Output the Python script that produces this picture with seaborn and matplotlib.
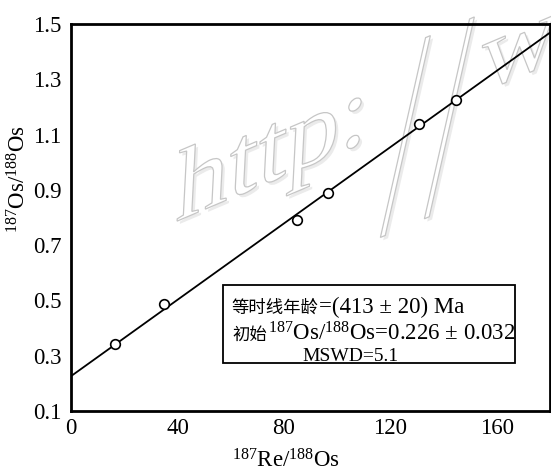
import numpy as np
import pandas as pd
import matplotlib
matplotlib.use("Agg")
import matplotlib.pyplot as plt
import matplotlib.patheffects as pe
from matplotlib.patches import Rectangle, PathPatch
from matplotlib.textpath import TextPath
from matplotlib.font_manager import FontProperties
from matplotlib.transforms import Affine2D
from matplotlib.ticker import MultipleLocator
import seaborn as sns

# Re-Os isotope data
re_os = [16.5, 35.1, 84.8, 96.4, 130.9, 144.6]     # 187Re/188Os
os_os = [0.341, 0.488, 0.791, 0.888, 1.137, 1.225]  # 187Os/188Os

# Isochron result
age_ma = 413
age_err = 20
initial_ratio = 0.226
initial_err = 0.032
mswd = 5.1
decay_const = 1.666e-11  # 187Re decay constant, 1/yr

x_ticks = [0, 40, 80, 120, 160]
y_ticks = [0.1, 0.3, 0.5, 0.7, 0.9, 1.1, 1.3, 1.5]

sns.set_theme(style="white")
plt.rcParams["font.family"] = ["Liberation Serif", "Noto Sans CJK SC"]
plt.rcParams["mathtext.fontset"] = "custom"
plt.rcParams["mathtext.rm"] = "Liberation Serif"
plt.rcParams["mathtext.it"] = "Liberation Serif:italic"

W, H = 551, 472
fig = plt.figure(figsize=(W / 100, H / 100), dpi=100)
ax = fig.add_axes([71 / W, 1 - 411 / H, 479 / W, 387 / H])

ax.set_xlim(0, 180)
ax.set_ylim(0.1, 1.5)

# watermark behind the data: sheared outline text, drawn piece by piece
wm_font = FontProperties(family="Liberation Serif")


def watermark_piece(text, dx, sx=1.05, sy=1.0, dy=0.0, slant=3):
    path = TextPath((0, 0), text, size=100, prop=wm_font)
    tr = (Affine2D().scale(sx, sy).translate(0, dy).skew_deg(slant, 0)
          .translate(dx, 0).skew_deg(0, 23).translate(175, H - 222))
    patch = PathPatch(path, transform=tr, facecolor="white",
                      edgecolor="#c6c6c6", lw=0.9, zorder=0.5, clip_on=False,
                      path_effects=[pe.SimplePatchShadow(offset=(2.0, -2.0),
                                                         shadow_rgbFace="#ebebeb",
                                                         alpha=1.0),
                                    pe.Normal()])
    ax.add_artist(patch)


watermark_piece("http:", 0)
watermark_piece("/", 218, sx=1.0, sy=2.7, dy=-100, slant=7)
watermark_piece("/", 262, sx=1.0, sy=2.7, dy=-100, slant=7)
watermark_piece("www", 305)

# isochron line from the fitted age and initial ratio
slope = np.exp(decay_const * age_ma * 1e6) - 1
line_x = np.array([0.0, 180.0])
line_df = pd.DataFrame({"x": line_x, "y": initial_ratio + slope * line_x})
sns.lineplot(data=line_df, x="x", y="y", ax=ax, color="black", lw=1.3, zorder=2)

pts = pd.DataFrame({"re": re_os, "os": os_os})
sns.scatterplot(data=pts, x="re", y="os", ax=ax, s=48, marker="o",
                facecolor="white", edgecolor="black", linewidth=1.2, zorder=3)

ax.set_xlim(0, 180)
ax.set_ylim(0.1, 1.5)
ax.set_xticks(x_ticks)
ax.set_xticklabels([str(v) for v in x_ticks])
ax.set_yticks(y_ticks)
ax.set_yticklabels([f"{v:.1f}" for v in y_ticks])
ax.xaxis.set_minor_locator(MultipleLocator(20))
ax.yaxis.set_minor_locator(MultipleLocator(0.1))

for s in ax.spines.values():
    s.set_linewidth(2.0)
    s.set_color("black")
ax.tick_params(axis="both", which="major", direction="in", length=6, width=1.5,
               labelsize=16.5, colors="black", top=False, right=False)
ax.tick_params(axis="both", which="minor", direction="in", length=3.5, width=1.5,
               top=False, right=False)
ax.tick_params(axis="y", which="major", pad=7)
ax.tick_params(axis="x", which="major", pad=5)

ax.set_xlabel(r"$^{187}$Re/$^{188}$Os", fontsize=16.5, color="black")
ax.set_ylabel(r"$^{187}$Os/$^{188}$Os", fontsize=16.5, color="black")
ax.xaxis.set_label_coords(0.448, -0.099)
ax.yaxis.set_label_coords(-0.084, (411 - 179) / 387)

# result box
ax.add_patch(Rectangle((0.318, 0.123), 0.609, 0.203, transform=ax.transAxes,
                       fill=True, facecolor="white", edgecolor="black",
                       lw=1.3, zorder=4))


def put_after(prev, text, **kw):
    """Place text directly to the right of an existing text, same baseline."""
    fig.canvas.draw()
    bb = prev.get_window_extent()
    x_ax = ax.transAxes.inverted().transform((bb.x1, 0))[0]
    _, y_ax = prev.get_position()
    return ax.text(x_ax, y_ax, text, transform=ax.transAxes, va="baseline",
                   ha="left", zorder=5, color="black", **kw)


cjk = dict(family="Noto Sans CJK SC", fontsize=12.5)
latin = dict(family="Liberation Serif", fontsize=16.5)

r1 = ax.text(0.3355, 0.253, "等时线年龄", transform=ax.transAxes, va="baseline",
             ha="left", zorder=5, color="black", **cjk)
put_after(r1, f"=({age_ma} ± {age_err}) Ma", **latin)

r2 = ax.text(0.338, 0.183, "初始", transform=ax.transAxes, va="baseline",
             ha="left", zorder=5, color="black", **cjk)
put_after(r2, r"$^{187}$Os/$^{188}$Os" + f"={initial_ratio:.3f} ± {initial_err:.3f}",
          **latin)

ax.text(0.484, 0.129, f"MSWD={mswd}", transform=ax.transAxes, va="baseline",
        ha="left", zorder=5, color="black", family="Liberation Serif", fontsize=14)

fig.savefig("out.png", dpi=100, facecolor="white")
